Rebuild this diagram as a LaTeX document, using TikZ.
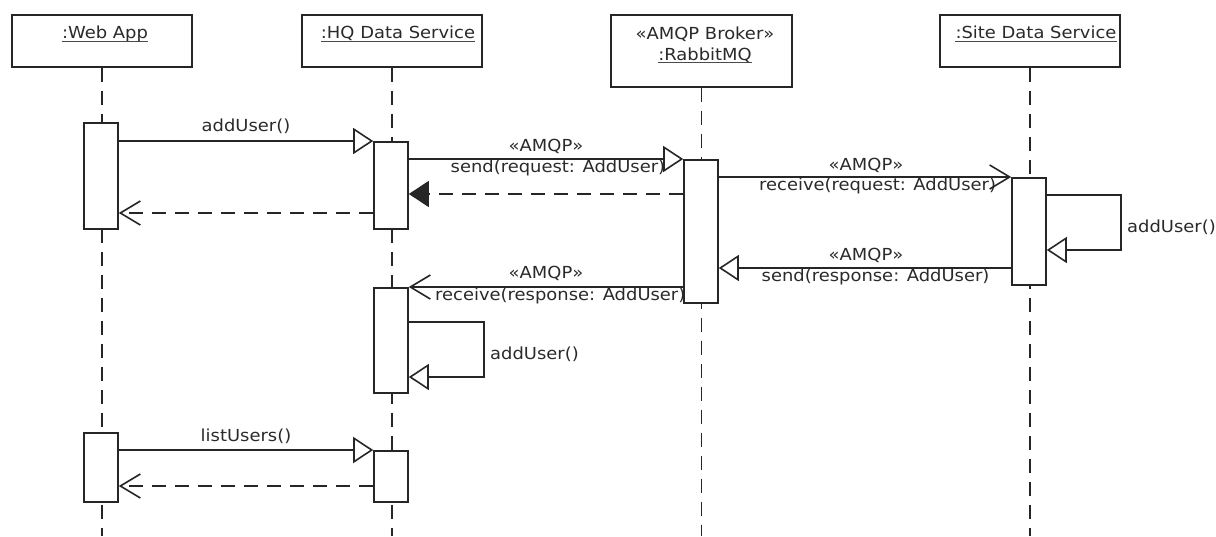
\documentclass[tikz,border=0pt]{standalone}
\usepackage{fontspec}
\setmainfont{DejaVu Sans}[FakeStretch=1.08]
\usetikzlibrary{arrows.meta,calc}
\definecolor{ink}{HTML}{2A2A2A}
\definecolor{ln}{HTML}{262626}
\begin{document}
\begin{tikzpicture}[x=1pt,y=-1pt,
  font=\fontsize{16.6}{19}\selectfont, text=ink,
  every node/.style={inner sep=0pt},
  head/.style={draw=ln, line width=1.6pt, fill=white, rectangle, anchor=north west},
  act/.style={draw=ln, line width=1.6pt, fill=white, rectangle, minimum width=34pt, anchor=north},
  life/.style={draw=ln, line width=1.6pt, dash pattern=on 14pt off 9pt},
  lbl/.style={anchor=base},
  lblw/.style={anchor=base west},
  ul/.style={draw=ink!85, line width=0.9pt},
  sync/.style={draw=ln, line width=1.6pt, -{Triangle[length=20pt,width=26pt,fill=white]}},
  ret/.style={draw=ln, line width=1.6pt, dash pattern=on 14pt off 9pt, -{Straight Barb[length=20pt,width=24pt]}},
  retf/.style={draw=ln, line width=1.6pt, dash pattern=on 14pt off 9pt, -{Triangle[length=20pt,width=26pt]}},
  async/.style={draw=ln, line width=1.6pt, -{Straight Barb[length=20pt,width=24pt]}},
]
\useasboundingbox (0,0) rectangle (1216,536);

% heads
\node[head, minimum width=180pt, minimum height=52pt] (web) at (11,14) {};
\node[head, minimum width=180pt, minimum height=52pt] (hq) at (301,14) {};
\node[head, minimum width=181pt, minimum height=72pt] (rmq) at (610,14) {};
\node[head, minimum width=180pt, minimum height=52pt] (site) at (939,14) {};

\node[lbl] (tweb) at (105,38.5) {:Web App};
\node[lbl] (thq) at (398,38.5) {:HQ Data Service};
\node[lbl] (tst) at (705,39) {«AMQP Broker»};
\node[lbl] (trmq) at (705,60) {:RabbitMQ};
\node[lbl] (tsite) at (1036,38.5) {:Site Data Service};
\foreach \t in {tweb,thq,trmq,tsite}
  \draw[ul] ([yshift=-2.5pt]\t.base west) -- ([yshift=-2.5pt]\t.base east);

% lifelines
\draw[life] (web.south) -- (web.south |- 0,536);
\draw[life] (hq.south) -- (hq.south |- 0,536);
\draw[life] (rmq.south) -- (rmq.south |- 0,536);
\draw[life] (site.south) -- (site.south |- 0,536);

% message labels (behind activations / arrow heads)
\node[lbl] (l1) at (246,131.5) {addUser()};
\node[lbl] (l2a) at (546,151) {«AMQP»};
\node[lblw] (l2b) at (450.5,172) {send(request: AddUser)};
\node[lbl] (l3a) at (866,170) {«AMQP»};
\node[lblw] (l3b) at (759,190.5) {receive(request: AddUser)};
\node[lblw] (l4) at (1127,232) {addUser()};
\node[lbl] (l5a) at (866,260) {«AMQP»};
\node[lblw] (l5b) at (761.5,281.5) {send(response: AddUser)};
\node[lbl] (l6a) at (546,278.5) {«AMQP»};
\node[lblw] (l6b) at (435,300) {receive(response: AddUser)};
\node[lblw] (l7) at (490,359) {addUser()};
\node[lbl] (l8) at (246,441) {listUsers()};

% activations
\node[act, minimum height=106pt] (w1) at (101,122) {};
\node[act, minimum height=87pt] (h1) at (391,141) {};
\node[act, minimum height=143pt] (r1) at (701,159) {};
\node[act, minimum height=107pt] (s1) at (1029,177) {};
\node[act, minimum height=105pt] (h2) at (391,287) {};
\node[act, minimum height=69pt] (w2) at (101,432) {};
\node[act, minimum height=51pt] (h3) at (391,450) {};

% messages
\draw[sync] (w1.east |- h1.north) -- (h1.north west);
\draw[sync] (h1.east |- r1.north) -- (r1.north west);
\draw[retf] (r1.west |- 0,194) -- (h1.east |- 0,194);
\draw[ret] (h1.west |- 0,213) -- (w1.east |- 0,213);
\draw[async] (r1.east |- s1.north) -- (s1.north west);
\draw[sync] (s1.east |- 0,195) -- (1121,195) -- (1121,250) -- (s1.east |- 0,250);
\draw[sync] (s1.west |- 0,268) -- (r1.east |- 0,268);
\draw[async] (r1.west |- h2.north) -- (h2.north east);
\draw[sync] (h2.east |- 0,322) -- (484,322) -- (484,377) -- (h2.east |- 0,377);
\draw[sync] (w2.east |- h3.north) -- (h3.north west);
\draw[ret] (h3.west |- 0,486) -- (w2.east |- 0,486);
\end{tikzpicture}
\end{document}
